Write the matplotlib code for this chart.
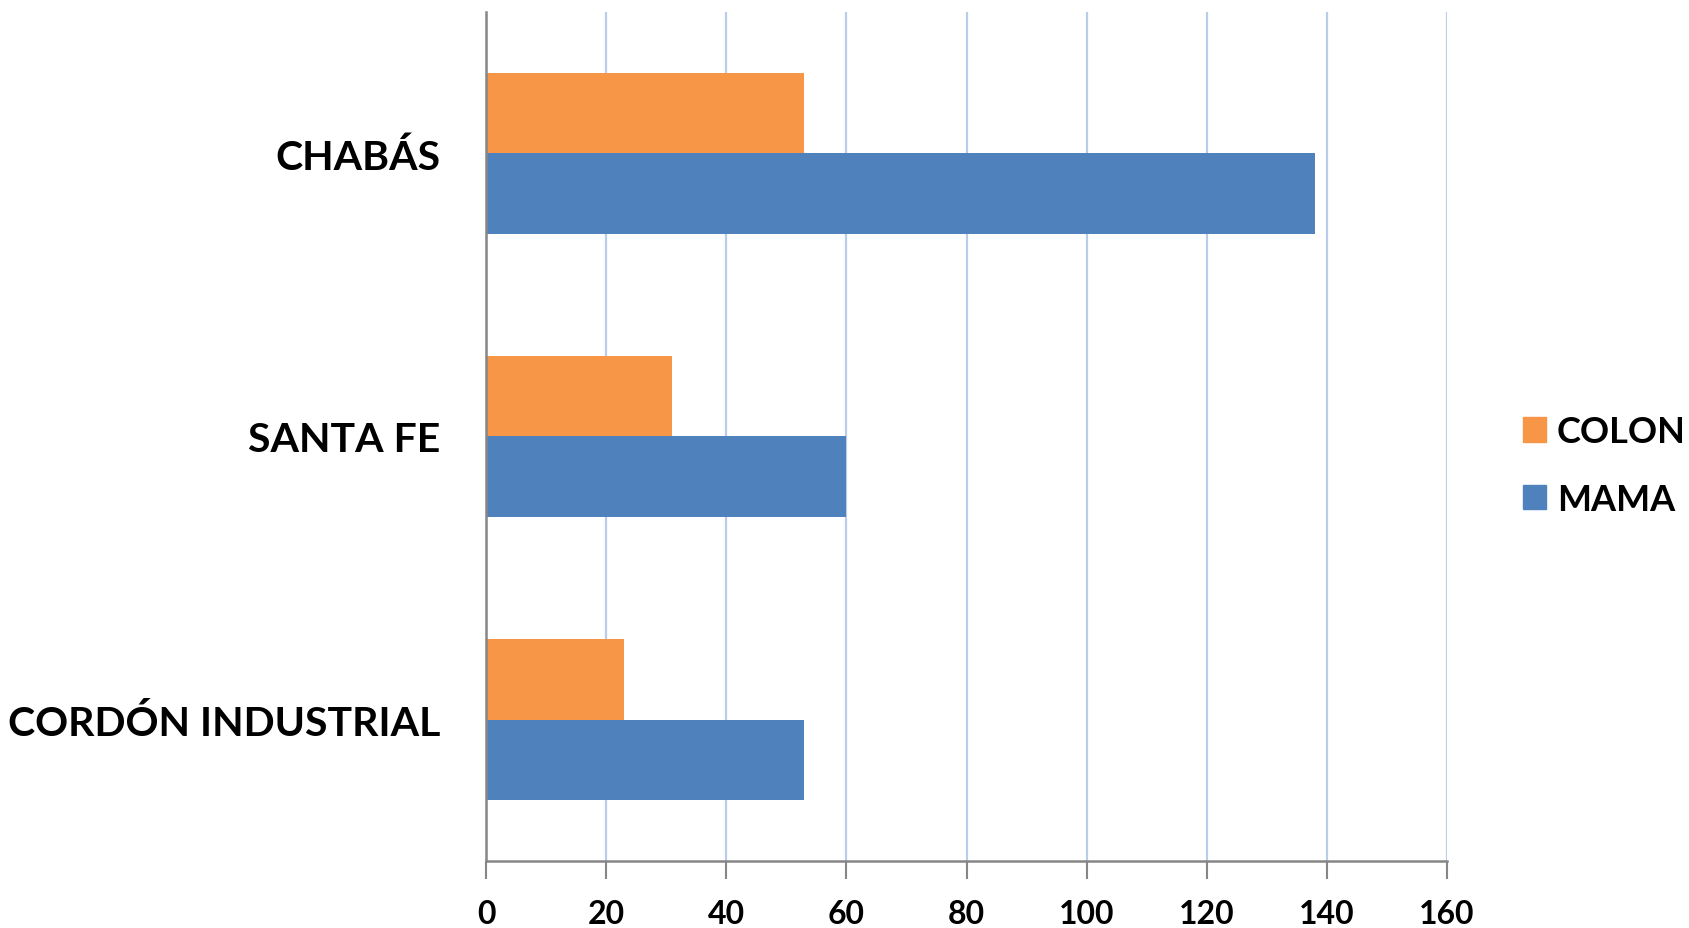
import matplotlib.pyplot as plt
import numpy as np
from matplotlib.patches import Patch

categories = ["CORDÓN INDUSTRIAL", "SANTA FE", "CHABÁS"]
colon = [23, 31, 53]
mama = [53, 60, 138]
x_ticks = [0, 20, 40, 60, 80, 100, 120, 140, 160]

plt.rcParams['font.family'] = ['Lato', 'DejaVu Sans']
plt.rcParams['font.weight'] = 'bold'

fig = plt.figure(figsize=(16.9, 9.29), dpi=100)
ax = fig.add_axes([0.2876, 0.0721, 0.5686, 0.914])

y = np.arange(len(categories))
h = 0.285
ax.barh(y + h / 2, colon, height=h, color='#F79646', label='COLON', zorder=3)
ax.barh(y - h / 2, mama, height=h, color='#4F81BD', label='MAMA', zorder=3)

ax.set_ylim(-0.5, 2.5)
ax.set_xlim(0, 160)
ax.set_xticks(x_ticks)
ax.set_xticklabels([str(v) for v in x_ticks], fontsize=23, fontweight='bold')
ax.set_yticks(y)
ax.set_yticklabels(categories, fontsize=29.5, fontweight='bold')
ax.tick_params(axis='y', length=0, pad=33)
ax.tick_params(axis='x', length=13, width=1.5, color='#868686', pad=14, direction='out')
ax.grid(axis='x', color='#B9CDEB', linewidth=1.6, zorder=0)

for s in ['top', 'right']:
    ax.spines[s].set_visible(False)
for s in ['left', 'bottom']:
    ax.spines[s].set_color('#868686')
    ax.spines[s].set_linewidth(1.8)
    ax.spines[s].set_zorder(4)

handles = [Patch(color='#F79646', label='COLON'), Patch(color='#4F81BD', label='MAMA')]
fig.legend(handles=handles, loc='center left', bbox_to_anchor=(0.901, 0.498),
           frameon=False, handlelength=0.65, handleheight=0.65,
           handletextpad=0.3, labelspacing=0.95, borderpad=0, borderaxespad=0,
           prop={'weight': 'bold', 'size': 26})

fig.savefig('out.png', dpi=100)
